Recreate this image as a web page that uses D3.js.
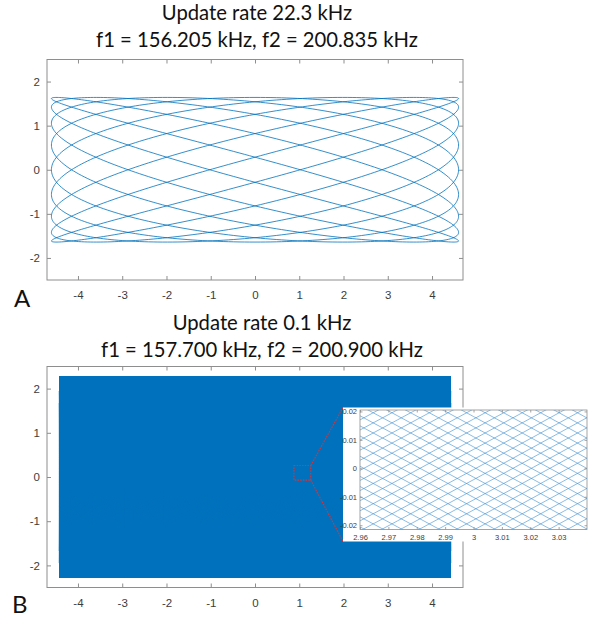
<!DOCTYPE html>
<html><head><meta charset="utf-8">
<script src="https://cdn.jsdelivr.net/npm/d3@7"></script>
<style>
body{margin:0;background:#fff}
svg{display:block}
</style></head>
<body>
<svg id="chart" width="592" height="621"></svg>
<script>
// ---------- data ----------
const panelLabels = ["A", "B"];
const titleLine1 = ["Update rate 22.3 kHz", "Update rate 0.1 kHz"];
const titleLine2 = ["f1 = 156.205 kHz, f2 = 200.835 kHz", "f1 = 157.700 kHz, f2 = 200.900 kHz"];
const updateRate = [22.3, 0.1];          // kHz
const f1 = [156.205, 157.700];           // kHz, drives the vertical deflection
const f2 = [200.835, 200.900];           // kHz, drives the horizontal deflection
const ampX = [4.6, 4.45];                // horizontal amplitude
const ampY = [1.64, 2.27];               // vertical amplitude
const xTicks = [-4, -3, -2, -1, 0, 1, 2, 3, 4];
const yTicks = [-2, -1, 0, 1, 2];
const xDomain = [-4.7, 4.7];
const yDomain = [-2.5, 2.5];
const insetXDomain = [2.96, 3.04];
const insetYDomain = [-0.0215, 0.0205];
const insetXTicks = [2.96, 2.97, 2.98, 2.99, 3, 3.01, 3.02, 3.03];
const insetYTicks = [-0.02, -0.01, 0, 0.01, 0.02];
const zoomBoxX = [0.88, 1.26];
const zoomBoxY = [-0.07, 0.26];

// ---------- layout ----------
const BLUE = "#0072BD";
const AX = "#8e8e8e";
const TXT = "#3c3c3c";
const panels = [
  {left: 47, right: 463, top: 59.5, bottom: 280, t1: 19.5, t2: 46.5, tc: 257, lab: [14, 307]},
  {left: 47, right: 463, top: 366.5, bottom: 587.5, t1: 329.5, t2: 356.5, tc: 262, lab: [12, 613]}
];

const svg = d3.select("#chart");
const defs = svg.append("defs");

function lissajous(i, samplesPerCycle) {
  const nx = Math.round(f2[i] / updateRate[i]);
  const ny = Math.round(f1[i] / updateRate[i]);
  const n = nx * samplesPerCycle;
  const pts = new Array(n + 1);
  for (let k = 0; k <= n; k++) {
    const s = k / n;
    pts[k] = [ampX[i] * Math.sin(2 * Math.PI * nx * s), ampY[i] * Math.cos(2 * Math.PI * ny * s)];
  }
  return pts;
}

function drawAxes(g, x, y, p, xt, yt, opts) {
  const fs = opts.fs, tick = opts.tick;
  const bottom = g.append("g").attr("transform", `translate(0,${p.bottom})`)
    .call(d3.axisBottom(x).tickValues(xt).tickSize(-tick).tickSizeOuter(0).tickPadding(opts.xpad).tickFormat(opts.xfmt));
  const left = g.append("g").attr("transform", `translate(${p.left},0)`)
    .call(d3.axisLeft(y).tickValues(yt).tickSize(-tick).tickSizeOuter(0).tickPadding(opts.ypad).tickFormat(opts.yfmt));
  const top = g.append("g").attr("transform", `translate(0,${p.top})`)
    .call(d3.axisTop(x).tickValues(xt).tickSize(-tick).tickSizeOuter(0).tickFormat(""));
  const right = g.append("g").attr("transform", `translate(${p.right},0)`)
    .call(d3.axisRight(y).tickValues(yt).tickSize(-tick).tickSizeOuter(0).tickFormat(""));
  [bottom, left, top, right].forEach(a => {
    a.select(".domain").remove();
    a.selectAll(".tick line").attr("stroke", AX).attr("stroke-width", opts.sw);
    a.selectAll("text").attr("fill", TXT).attr("font-family", "Liberation Sans, Arial, sans-serif").attr("font-size", fs);
  });
  g.append("rect").attr("x", p.left).attr("y", p.top)
    .attr("width", p.right - p.left).attr("height", p.bottom - p.top)
    .attr("fill", "none").attr("stroke", AX).attr("stroke-width", opts.sw);
}

const fmtMinus = d => String(d).replace("-", "-");

panels.forEach((p, i) => {
  const g = svg.append("g");
  const x = d3.scaleLinear().domain(xDomain).range([p.left, p.right]);
  const y = d3.scaleLinear().domain(yDomain).range([p.bottom, p.top]);

  // curve
  const pts = lissajous(i, i === 0 ? 240 : 26);
  const line = d3.line().x(d => x(d[0])).y(d => y(d[1])).curve(d3.curveLinear);
  g.append("path").attr("d", line(pts)).attr("fill", "none")
    .attr("stroke", BLUE).attr("stroke-width", i === 0 ? 0.8 : 1)
    .attr("stroke-linejoin", "round");

  drawAxes(g, x, y, p, xTicks, yTicks, {fs: 11.5, tick: 4, xpad: 11, ypad: 7, sw: 1, xfmt: fmtMinus, yfmt: fmtMinus});

  // titles
  [titleLine1[i], titleLine2[i]].forEach((t, j) => {
    g.append("text").attr("x", p.tc).attr("y", j === 0 ? p.t1 : p.t2)
      .attr("text-anchor", "middle").attr("font-family", "Lato, 'Open Sans', sans-serif")
      .attr("font-size", 19).attr("fill", "#111").text(t);
  });
  g.append("text").attr("x", p.lab[0]).attr("y", p.lab[1])
    .attr("font-family", "Lato, 'Open Sans', sans-serif").attr("font-size", 24).attr("fill", "#111")
    .text(panelLabels[i]);

  if (i === 1) {
    // zoom box
    const bx0 = x(zoomBoxX[0]), bx1 = x(zoomBoxX[1]), by0 = y(zoomBoxY[1]), by1 = y(zoomBoxY[0]);
    const ins = {bgL: 343, bgR: 592, bgT: 407.5, bgB: 541.5, left: 360, right: 587, top: 410, bottom: 529.5};
    g.append("rect").attr("x", bx0).attr("y", by0).attr("width", bx1 - bx0).attr("height", by1 - by0)
      .attr("fill", "none").attr("stroke", "#d8343a").attr("stroke-width", 1.1).attr("stroke-dasharray", "1.5,1.2");
    g.append("line").attr("x1", bx1).attr("y1", by0).attr("x2", ins.bgL).attr("y2", ins.bgT)
      .attr("stroke", "#d8343a").attr("stroke-width", 1.1).attr("stroke-dasharray", "1.5,1.2");
    g.append("line").attr("x1", bx1).attr("y1", by1).attr("x2", ins.bgL).attr("y2", ins.bgB)
      .attr("stroke", "#d8343a").attr("stroke-width", 1.1).attr("stroke-dasharray", "1.5,1.2");

    // inset
    const gi = svg.append("g");
    gi.append("rect").attr("x", ins.bgL).attr("y", ins.bgT).attr("width", ins.bgR - ins.bgL).attr("height", ins.bgB - ins.bgT)
      .attr("fill", "#fff");
    const xi = d3.scaleLinear().domain(insetXDomain).range([ins.left, ins.right]);
    const yi = d3.scaleLinear().domain(insetYDomain).range([ins.bottom, ins.top]);
    defs.append("clipPath").attr("id", "insetClip").append("rect")
      .attr("x", ins.left).attr("y", ins.top).attr("width", ins.right - ins.left).attr("height", ins.bottom - ins.top);

    // passes of the curve through the inset window
    const nx = Math.round(f2[i] / updateRate[i]);
    const ny = Math.round(f1[i] / updateRate[i]);
    const xc = (insetXDomain[0] + insetXDomain[1]) / 2;
    const th = Math.asin(xc / ampX[i]);
    const halfW = (insetXDomain[1] - insetXDomain[0]) * 0.8;
    const dth = halfW / (ampX[i] * Math.cos(th));
    const segs = [];
    for (let k = 0; k < nx; k++) {
      [th, Math.PI - th].forEach(t0 => {
        const seg = [];
        let near = false;
        for (let j = -12; j <= 12; j++) {
          const s = (t0 + 2 * Math.PI * k + j * dth / 12) / (2 * Math.PI * nx);
          const px = ampX[i] * Math.sin(2 * Math.PI * nx * s);
          const py = ampY[i] * Math.cos(2 * Math.PI * ny * s);
          if (Math.abs(py) < 0.06) near = true;
          seg.push([px, py]);
        }
        if (near) segs.push(seg);
      });
    }
    const li = d3.line().x(d => xi(d[0])).y(d => yi(d[1]));
    gi.append("g").attr("clip-path", "url(#insetClip)")
      .selectAll("path").data(segs).join("path")
      .attr("d", li).attr("fill", "none").attr("stroke", "#3d8fd0").attr("stroke-width", 0.6);

    drawAxes(gi, xi, yi, ins, insetXTicks, insetYTicks,
      {fs: 7.5, tick: 2.5, xpad: 5, ypad: 3, sw: 0.8, xfmt: d => String(d), yfmt: d => String(d)});
  }
});

// fit title widths to the reference
const targets = {"f1 = 156.205 kHz, f2 = 200.835 kHz": 324, "f1 = 157.700 kHz, f2 = 200.900 kHz": 322};
svg.selectAll("text").each(function () {
  const t = d3.select(this).text();
  if (targets[t]) {
    const w = this.getComputedTextLength();
    const fs = 19 * targets[t] / w;
    svg.selectAll("text").filter(function () { return d3.select(this).attr("font-size") == 19; })
      .attr("data-fs", fs);
  }
});
const fsTitle = +svg.select("text[data-fs]").attr("data-fs") || 19;
svg.selectAll("text[data-fs]").attr("font-size", fsTitle);
</script>
</body></html>
